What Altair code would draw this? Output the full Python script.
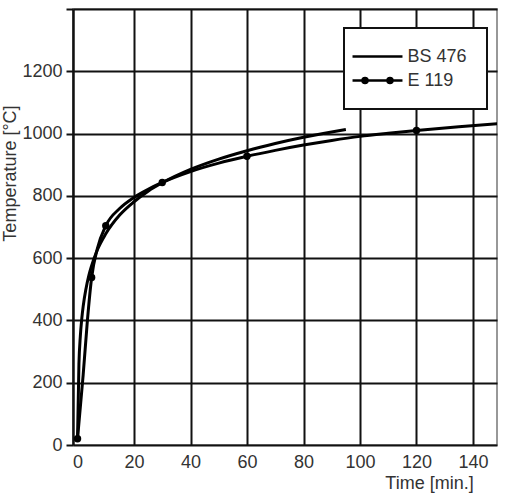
import altair as alt
import pandas as pd

# ---- data ----
series_names = ["BS 476", "E 119"]

bs_time = [0, 0.5, 1, 1.5, 2, 3, 4, 5, 7, 10, 15, 20, 25, 30, 40, 50, 60, 70, 80, 95]
bs_temp = [20, 260, 350, 405, 445, 502, 544, 576, 626, 678, 739, 781, 815, 842, 885, 918, 945, 968, 988, 1013]

e_time = [0, 2, 3.5, 5, 7, 10, 15, 20, 25, 30, 40, 50, 60, 70, 80, 90, 100, 110, 120, 135, 150]
e_temp = [20, 225, 400, 538, 630, 704, 760, 795, 821, 843, 878, 905, 927, 946, 963, 978, 991, 1001, 1010, 1022, 1033]

mark_time = [0, 5, 10, 30, 60, 120]
mark_temp = [20, 538, 704, 843, 927, 1010]

x_ticks = [0, 20, 40, 60, 80, 100, 120, 140]
y_ticks = [0, 200, 400, 600, 800, 1000, 1200, 1400]

line_df = pd.concat([
    pd.DataFrame({"t": bs_time, "T": bs_temp, "series": series_names[0]}),
    pd.DataFrame({"t": e_time, "T": e_temp, "series": series_names[1]}),
])
mark_df = pd.DataFrame({"t": mark_time, "T": mark_temp, "series": series_names[1]})
legend_df = pd.DataFrame({"t": [None, None], "T": [None, None], "series": series_names})

FONT = "Liberation Sans"
TXT = "#333333"

x_scale = alt.Scale(domain=[-1.6, 148.5], nice=False, zero=False)
y_scale = alt.Scale(domain=[0, 1400], nice=False)

x_axis = alt.Axis(
    title="Time [min.]", values=x_ticks, grid=True, gridColor="#111111", gridWidth=2,
    gridOpacity={"condition": {"test": "datum.value === 0", "value": 0}, "value": 1},
    ticks=False, domain=False, labelPadding=8, labelFontSize=18, labelColor=TXT, format="d",
    labelFont=FONT, titleFont=FONT, titleFontSize=18, titleColor=TXT, titleFontWeight="normal",
    titleX=356, titleY=43, titleAlign="center", titleBaseline="alphabetic",
)
y_axis = alt.Axis(
    title="Temperature [°C]", values=y_ticks, grid=True, gridColor="#111111", gridWidth=2,
    ticks=True, tickSize=7, tickWidth=2, tickColor="#111111",
    domain=True, domainColor="#111111", domainWidth=2.5, format="d",
    labelExpr="datum.value == 1400 ? '' : datum.label",
    labelPadding=4, labelFontSize=18, labelColor=TXT, labelFont=FONT,
    titleFont=FONT, titleFontSize=18, titleColor=TXT, titleFontWeight="normal",
    titleX=-63, titleY=164, titleAlign="center", titleBaseline="middle", titleAngle=-90,
)

lines = alt.Chart(line_df).mark_line(color="black", strokeWidth=3, interpolate="monotone", clip=True).encode(
    x=alt.X("t:Q", scale=x_scale, axis=x_axis),
    y=alt.Y("T:Q", scale=y_scale, axis=y_axis),
    detail="series:N",
)

points = alt.Chart(mark_df).mark_point(filled=True, color="black", size=55, opacity=1, clip=True).encode(
    x="t:Q", y="T:Q",
)

# legend symbols: stroke-only paths (line, and line with two solid dots drawn as concentric rings)
def ring(cx, r):
    return (f"M{cx - r},0A{r},{r},0,1,1,{cx + r},0A{r},{r},0,1,1,{cx - r},0Z")

path_line = "M-4,0H4"
path_dots = "M-4,0H4" + ring(-2, 0.4) + ring(-2, 0.18) + ring(2, 0.4) + ring(2, 0.18)

legend_layer = alt.Chart(legend_df).mark_point(
    filled=False, color="black", strokeWidth=2.5, opacity=1, size=156
).encode(
    x="t:Q", y="T:Q",
    shape=alt.Shape(
        "series:N",
        scale=alt.Scale(domain=series_names, range=[path_line, path_dots]),
        legend=alt.Legend(
            title=None, orient="none", legendX=271, legendY=19,
            fillColor="white", strokeColor="#111111", padding=19.5,
            symbolSize=156, symbolOffset=5, labelOffset=21, rowPadding=6,
            symbolStrokeWidth=2.5, symbolStrokeColor="black",
            labelFont=FONT, labelFontSize=18, labelColor=TXT,
        ),
    ),
)

chart = alt.layer(lines, points, legend_layer).properties(
    width=424, height=436,
    autosize=alt.AutoSizeParams(type="none"),
    padding={"left": 73, "top": 9, "right": 13, "bottom": 49},
).configure_view(
    stroke="#777777", strokeWidth=1.5
).configure_legend(
    strokeWidth=2
)

chart.save("out.html", embed_options={"renderer": "svg", "actions": False})
